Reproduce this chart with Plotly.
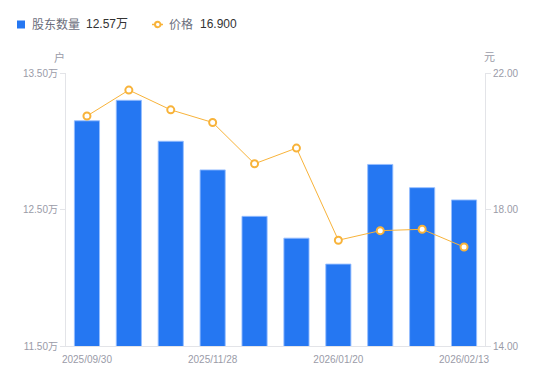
import plotly.graph_objects as go

dates = ["2025/09/30", "2025/10/20", "2025/10/31", "2025/11/28", "2025/12/10",
         "2025/12/31", "2026/01/20", "2026/01/30", "2026/02/10", "2026/02/13"]
holders = [13.15, 13.30, 13.00, 12.79, 12.45, 12.29, 12.10, 12.83, 12.66, 12.57]  # 万户
prices = [20.74, 21.50, 20.92, 20.55, 19.34, 19.80, 17.10, 17.38, 17.42, 16.90]
tick_dates = ["2025/09/30", "2025/11/28", "2026/01/20", "2026/02/13"]
left_ticks = [11.5, 12.5, 13.5]
right_ticks = [14, 18, 22]
legend_holder_value = "12.57万"
legend_price_value = "16.900"

FONT = "Arial, 'Liberation Sans', 'Noto Sans CJK SC', sans-serif"
GRAY = "#9a9ba8"
BLUE = "#2577f2"
ORANGE = "#f8b33a"

# plot area in pixels
L, R, T, B = 66, 485, 73, 346
def px(x):
    return (x - L) / (R - L)
def py(y):
    return (B - y) / (B - T)

fig = go.Figure()
fig.add_trace(go.Bar(
    x=dates, y=holders, name="股东数量",
    marker=dict(color=BLUE, line=dict(color="rgba(150,190,255,0.9)", width=1)),
    width=0.6, yaxis="y", hoverinfo="skip"))
fig.add_trace(go.Scatter(
    x=dates, y=prices, name="价格",
    mode="lines+markers", yaxis="y2",
    line=dict(color=ORANGE, width=1),
    marker=dict(symbol="circle", size=7, color="white", line=dict(color=ORANGE, width=2)),
    hoverinfo="skip"))

shapes = [
    dict(type="rect", xref="paper", yref="paper", x0=px(17), x1=px(25), y0=py(28.5), y1=py(20.5),
         fillcolor=BLUE, line=dict(width=0), layer="above"),
    dict(type="line", xref="paper", yref="paper", x0=px(152), x1=px(163), y0=py(24.5), y1=py(24.5),
         line=dict(color=ORANGE, width=1.5)),
    dict(type="circle", xref="paper", yref="paper", x0=px(155), x1=px(160.5), y0=py(27.2), y1=py(21.8),
         fillcolor="white", line=dict(color=ORANGE, width=2)),
]

ann_font = dict(size=12, color="#6b6e7c")
val_font = dict(size=12, color="#333333")
annotations = [
    dict(text="股东数量", xref="paper", yref="paper", x=px(30), y=py(24.5), xanchor="left",
         yanchor="middle", showarrow=False, font=ann_font),
    dict(text=legend_holder_value, xref="paper", yref="paper", x=px(84), y=py(24.5), xanchor="left",
         yanchor="middle", showarrow=False, font=val_font),
    dict(text="价格", xref="paper", yref="paper", x=px(167), y=py(24.5), xanchor="left",
         yanchor="middle", showarrow=False, font=ann_font),
    dict(text=legend_price_value, xref="paper", yref="paper", x=px(198), y=py(24.5), xanchor="left",
         yanchor="middle", showarrow=False, font=val_font),
    dict(text="户", xref="paper", yref="paper", x=px(59), y=py(57), xanchor="center",
         yanchor="middle", showarrow=False, font=dict(size=11, color=GRAY)),
    dict(text="元", xref="paper", yref="paper", x=px(490), y=py(57), xanchor="center",
         yanchor="middle", showarrow=False, font=dict(size=11, color=GRAY)),
]

fig.update_layout(
    width=550, height=381,
    margin=dict(l=L, r=550 - R, t=T, b=381 - B),
    paper_bgcolor="white", plot_bgcolor="white",
    font=dict(family=FONT, size=11, color=GRAY),
    showlegend=False,
    xaxis=dict(type="category", tickmode="array", tickvals=tick_dates, ticktext=tick_dates,
               showline=True, linecolor="#e3e4e8", linewidth=1,
               ticks="outside", ticklen=4, tickcolor="rgba(0,0,0,0)",
               showgrid=False, tickfont=dict(size=10, color=GRAY), range=[-0.5, 9.5]),
    yaxis=dict(range=[11.5, 13.5], tickvals=left_ticks,
               ticktext=[f"{v:.2f}万" for v in left_ticks],
               showgrid=False, zeroline=False,
               showline=True, linecolor="#e3e4e8", linewidth=1,
               ticks="outside", ticklen=5, tickcolor="#e3e4e8",
               tickfont=dict(size=10, color=GRAY)),
    yaxis2=dict(range=[14, 22], tickvals=right_ticks,
                ticktext=[f"{v:.2f}" for v in right_ticks],
                overlaying="y", side="right", showgrid=False, zeroline=False,
                showline=True, linecolor="#e3e4e8", linewidth=1,
                ticks="outside", ticklen=5, tickcolor="#e3e4e8",
                tickfont=dict(size=10, color=GRAY)),
    shapes=shapes,
    annotations=annotations,
)

fig.write_html("out.html", config={"displayModeBar": False, "staticPlot": True},
               post_script="document.body.style.margin='0';document.body.style.padding='0';")
